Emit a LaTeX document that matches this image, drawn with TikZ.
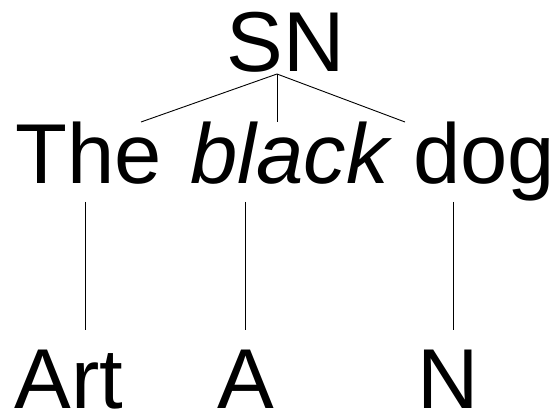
\documentclass[tikz,border=0pt]{standalone}
\usepackage{fontspec}
\setmainfont{Liberation Sans}
\usepackage{tikz}
\usetikzlibrary{positioning}

\begin{document}
\begin{tikzpicture}[x=1pt, y=1pt, line width=0.9pt,
    word/.style={inner sep=0pt, font=\fontsize{85}{100}\selectfont}]
    \useasboundingbox (0,0) rectangle (554,412);
    \node[word, anchor=base] (sn) at (286,340) {SN};
    \node[word, anchor=base west] (the) at (15,228) {The};
    \node[word, anchor=base west] (black) at (190,228) {\itshape black};
    \node[word, anchor=base west] (dog) at (413,228) {dog};
    \node[word, anchor=base west] (art) at (14,3) {Art};
    \node[word, anchor=base] (adj) at (246,3) {A};
    \node[word, anchor=base] (noun) at (448,3) {N};
    \coordinate (root) at (277,338);
    \coordinate (the-top) at (141,290);
    \coordinate (black-top) at (277,290);
    \coordinate (dog-top) at (405,290);
    \draw (root) -- (the-top);
    \draw (root) -- (black-top);
    \draw (root) -- (dog-top);
    \draw (85,210) coordinate (the-foot) -- (85,82) coordinate (art-top);
    \draw (245,210) coordinate (black-foot) -- (245,82) coordinate (adj-top);
    \draw (453,210) coordinate (dog-foot) -- (453,82) coordinate (noun-top);
\end{tikzpicture}
\end{document}
